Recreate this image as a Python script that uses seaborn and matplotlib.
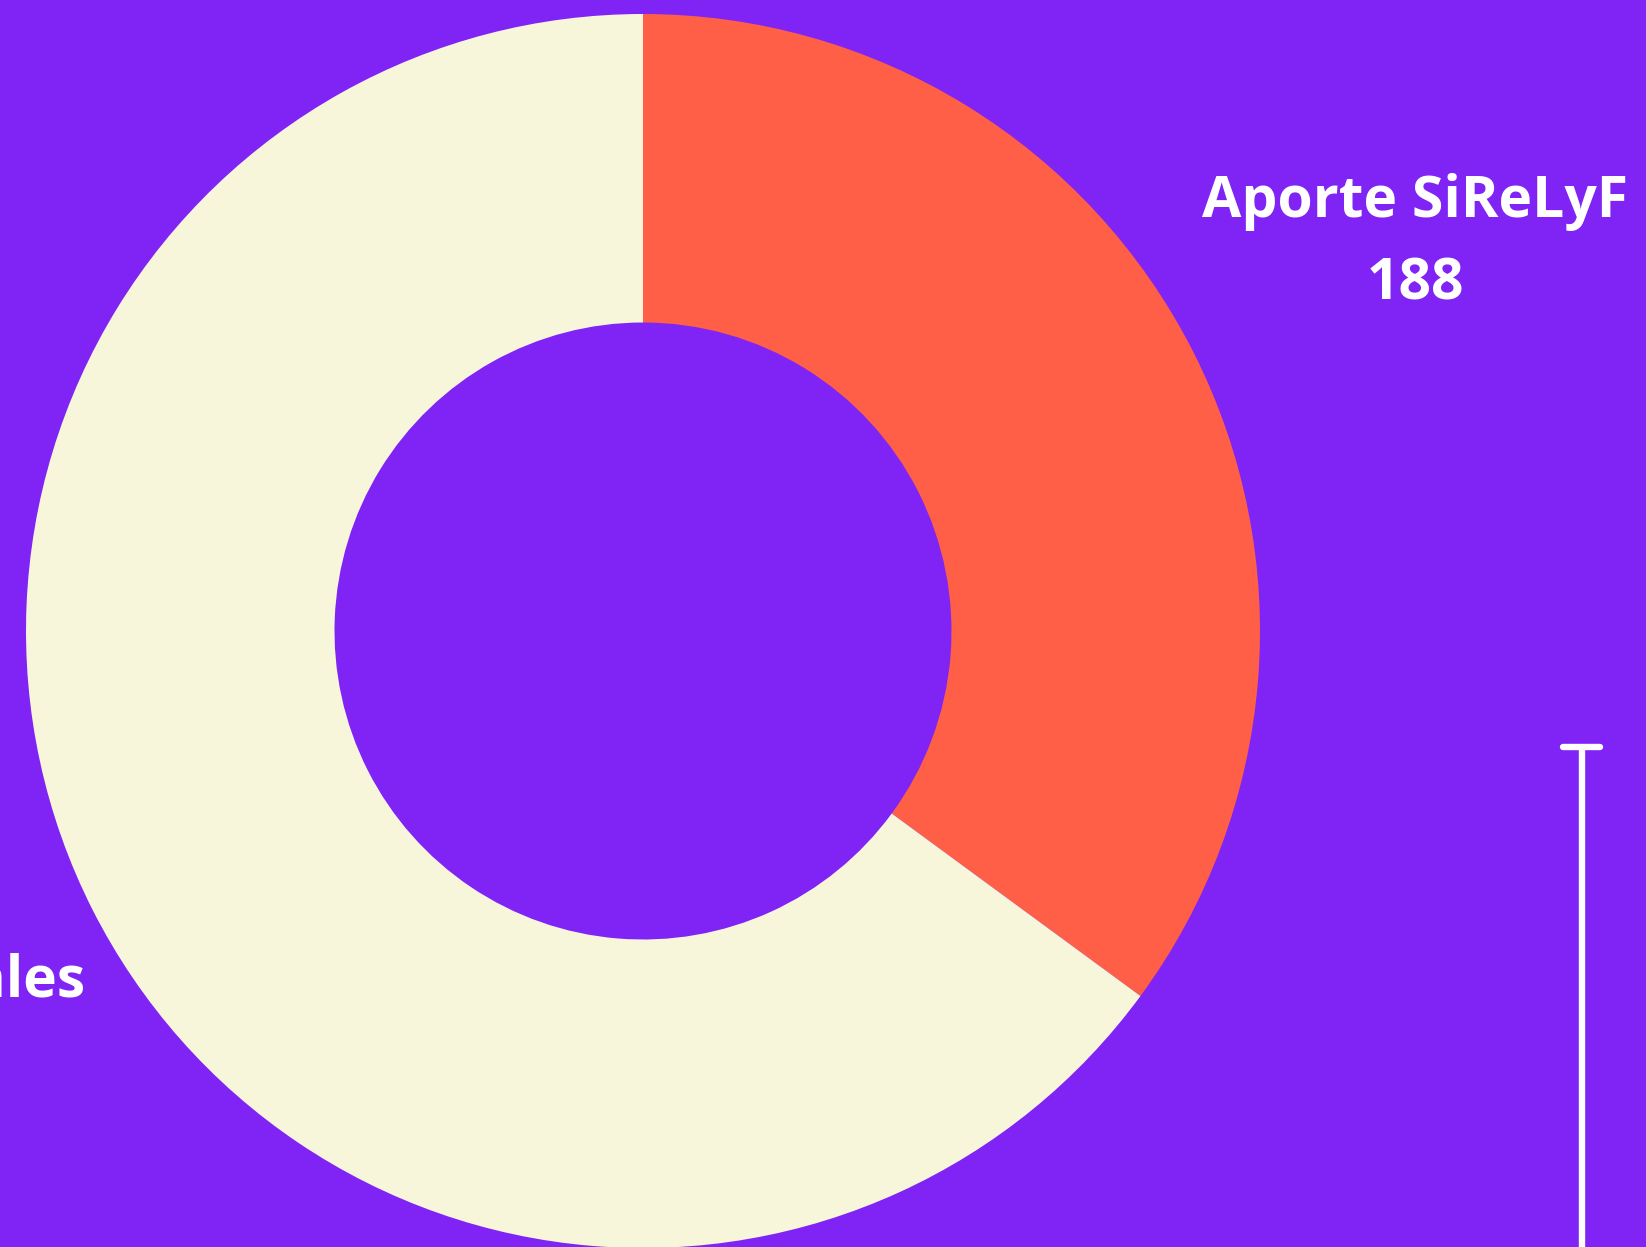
import matplotlib
matplotlib.use("Agg")
import matplotlib.pyplot as plt
import seaborn as sns
from matplotlib.lines import Line2D

categories = ["Aporte SiReLyF", "Aportes provinciales"]
values = [188, 348]
colors = ["#FF5F46", "#F8F6DA"]
bg = "#7F24F5"

sns.set_theme(style="white")
plt.rcParams['font.family'] = ['Open Sans', 'DejaVu Sans']

W, H = 1646, 1247
fig = plt.figure(figsize=(W / 100, H / 100), dpi=100, facecolor=bg)
ax = fig.add_axes([0, 0, 1, 1])
ax.set_facecolor(bg)

ax.pie(values, colors=colors, startangle=90, counterclock=False,
       radius=1.0, wedgeprops=dict(width=0.5, linewidth=0))

# pixel-consistent limits (center at ~643, 631 px; radius ~617 px)
cx, cy, r = 643, 631, 617
ax.set_xlim(-cx / r, (W - cx) / r)
ax.set_ylim(-(H - cy) / r, cy / r)
ax.set_aspect('auto')
ax.axis('off')

def px(x, y):
    return ((x - cx) / r, (cy - y) / r)

# label for first slice
x1, y1 = px(1415, 243)
ax.text(x1, y1, f"{categories[0]}\n{values[0]}", ha='center', va='center',
        color='white', fontsize=41, fontweight='bold', linespacing=1.56)

# label for second slice (mostly outside the canvas)
x2, y2 = px(85, 982)
t = ax.text(x2, y2, categories[1], ha='right', va='center',
            color='white', fontsize=41, fontweight='bold')
fig.canvas.draw()
bb = t.get_window_extent().transformed(ax.transData.inverted())
ax.text((bb.x0 + bb.x1) / 2, y2 - 90 / r, str(values[1]), ha='center', va='center',
        color='white', fontsize=41, fontweight='bold')

# white bracket on the right
lx, ly = 1582 / W, 1 - 747 / H
fig.add_artist(Line2D([lx, lx], [ly, -0.01], transform=fig.transFigure,
                      color='white', lw=4.6, solid_capstyle='butt'))
fig.add_artist(Line2D([1563 / W, 1600 / W], [ly, ly], transform=fig.transFigure,
                      color='white', lw=4.6, solid_capstyle='round'))

fig.savefig("out.png", dpi=100, facecolor=bg)
